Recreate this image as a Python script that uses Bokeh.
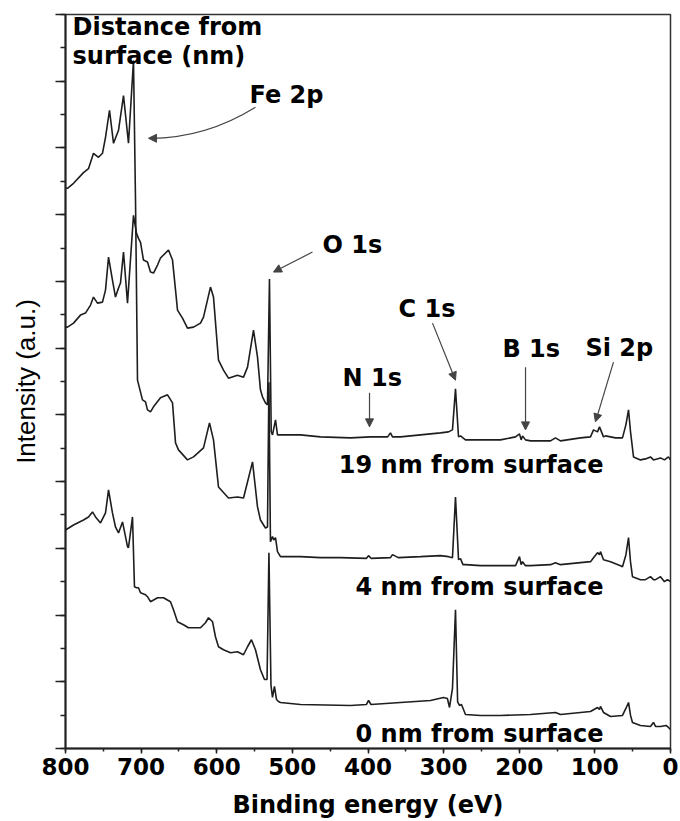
from bokeh.plotting import figure
from bokeh.models import Range1d, SingleIntervalTicker, Arrow, NormalHead
from bokeh.core.properties import value
from bokeh.embed import file_html
from bokeh.resources import INLINE

# ---------------- data (binding energy in eV, intensity in a.u.) ----------------
# 4 nm from surface
be_4nm = [800, 797.4, 789.4, 776.2, 769.6, 763.0, 756.4, 751.1, 747.1, 741.8,
          736.5, 729.9, 723.3, 716.7, 710.1, 707.4, 705.5, 704.8, 698.2, 694.2,
          691.6, 687.6, 683.6, 674.4, 665.1, 658.5, 654.5, 650.6, 638.7, 630.7,
          617.5, 609.6, 604.3, 597.7, 584.5, 572.6, 564.6, 552.7, 546.1, 542.2,
          535.6, 532.9, 531.0, 529.0, 526.3, 524.5, 522.3, 519.7, 515.7, 489.3,
          462.8, 436.4, 402.0, 399.3, 396.0, 370.3, 367.6, 360.0, 330.6, 304.1,
          293.6, 288.3, 284.3, 280.3, 277.7, 274.4, 271.1, 251.2, 224.8, 204.9,
          199.7, 197.5, 195.7, 191.7, 185.1, 158.7, 152.1, 145.5, 119.0, 105.8,
          101.8, 96.5, 93.9, 92.6, 88.6, 79.3, 66.1, 63.5, 59.0, 55.5,
          52.9, 50.3, 39.7, 33.1, 26.5, 22.5, 19.8, 13.2, 8.0, 4.0,
          0.0]
int_4nm = [16.79, 16.79, 16.94, 17.26, 17.38, 17.84, 17.72, 17.84, 18.32, 19.13,
           18.14, 18.53, 19.57, 18.14, 20.62, 16.40, 12.50, 11.04, 10.45, 10.39,
           10.15, 10.09, 10.24, 10.51, 10.60, 10.36, 9.16, 8.95, 8.65, 8.74,
           9.01, 9.76, 9.25, 7.84, 7.51, 7.54, 7.51, 8.59, 7.24, 6.85,
           6.61, 6.64, 10.98, 6.20, 6.35, 6.25, 6.32, 5.90, 5.75, 5.75,
           5.72, 5.72, 5.70, 5.78, 5.70, 5.72, 5.81, 5.72, 5.75, 5.78,
           5.75, 5.72, 7.54, 5.66, 5.69, 5.51, 5.51, 5.48, 5.48, 5.48,
           5.75, 5.51, 5.60, 5.48, 5.48, 5.51, 5.57, 5.51, 5.57, 5.60,
           5.72, 5.87, 5.81, 5.90, 5.66, 5.60, 5.48, 5.45, 5.80, 6.32,
           5.60, 5.15, 5.06, 5.06, 5.15, 5.06, 5.06, 5.15, 5.00, 5.06,
           5.00]

# 19 nm from surface
be_19nm = [800, 797.4, 789.4, 780.2, 773.6, 766.9, 763.0, 757.7, 751.1, 747.1,
           743.1, 737.9, 733.9, 729.9, 727.3, 723.3, 718.0, 710.1, 706.1, 703.5,
           700.8, 696.9, 691.6, 687.6, 683.6, 678.3, 674.4, 663.8, 658.5, 654.5,
           651.9, 645.3, 638.7, 630.7, 621.5, 617.5, 608.3, 604.3, 597.7, 591.1,
           584.5, 572.6, 564.6, 559.3, 551.4, 546.1, 542.2, 539.5, 535.6, 532.9,
           530.3, 528.0, 526.3, 522.3, 519.7, 515.7, 489.3, 462.8, 423.1, 396.7,
           374.0, 370.3, 367.6, 357.0, 330.6, 304.1, 293.6, 288.3, 284.3, 280.3,
           277.7, 271.1, 251.2, 224.8, 204.9, 199.7, 197.5, 195.7, 191.7, 185.1,
           158.7, 152.1, 145.5, 119.0, 105.8, 101.8, 96.5, 93.9, 88.6, 85.9,
           72.7, 63.5, 59.0, 55.5, 52.9, 48.9, 39.7, 33.1, 26.5, 22.5,
           13.2, 8.0, 2.7, 0.0]
int_19nm = [12.63, 12.63, 12.75, 12.99, 13.05, 13.29, 13.53, 13.35, 13.38, 13.74,
            14.73, 14.04, 13.53, 13.80, 13.95, 14.88, 13.35, 15.98, 15.44, 15.29,
            15.17, 14.64, 14.58, 14.28, 14.25, 14.49, 14.70, 14.94, 14.64, 13.74,
            13.14, 12.90, 12.60, 12.63, 12.75, 12.93, 13.83, 13.53, 11.64, 11.34,
            11.10, 11.19, 11.13, 11.43, 12.54, 11.73, 10.75, 10.54, 10.36, 10.30,
            14.07, 9.50, 9.40, 9.85, 9.40, 9.40, 9.40, 9.34, 9.31, 9.34,
            9.34, 9.46, 9.34, 9.34, 9.40, 9.46, 9.49, 9.55, 10.78, 9.34,
            9.37, 9.25, 9.25, 9.25, 9.34, 9.43, 9.25, 9.37, 9.25, 9.22,
            9.22, 9.31, 9.22, 9.31, 9.34, 9.55, 9.49, 9.64, 9.34, 9.37,
            9.31, 9.31, 9.70, 10.15, 9.50, 8.74, 8.65, 8.68, 8.74, 8.65,
            8.71, 8.65, 8.74, 8.65]

# 0 nm from surface
be_0nm = [800, 789.4, 776.2, 769.6, 764.3, 760.3, 753.7, 747.1, 743.1, 737.9,
          733.9, 729.9, 724.6, 718.0, 716.7, 711.4, 708.8, 706.1, 703.5, 700.8,
          694.2, 691.6, 687.6, 678.3, 670.4, 661.2, 657.2, 651.9, 644.0, 637.4,
          621.5, 614.9, 610.9, 605.6, 601.7, 597.7, 591.1, 581.8, 572.6, 564.6,
          559.3, 554.1, 548.8, 542.2, 536.9, 533.5, 531.0, 528.3, 526.3, 523.7,
          521.0, 518.4, 515.7, 489.3, 423.1, 402.0, 399.3, 396.0, 357.0, 317.4,
          300.2, 295.0, 292.2, 288.3, 284.3, 281.5, 279.0, 276.4, 271.1, 251.2,
          224.8, 185.1, 152.1, 145.5, 119.0, 105.8, 96.5, 93.9, 92.6, 88.6,
          79.3, 63.5, 59.0, 55.5, 52.9, 50.3, 39.7, 26.5, 22.5, 19.8,
          13.2, 6.0, 2.7, 0.0]
int_0nm = [6.55, 6.70, 6.85, 6.94, 7.09, 6.94, 6.76, 7.06, 7.75, 7.06,
           6.64, 6.46, 6.79, 6.05, 6.02, 6.94, 4.85, 4.82, 4.82, 4.67,
           4.61, 4.55, 4.40, 4.52, 4.52, 4.40, 4.16, 3.80, 3.71, 3.62,
           3.62, 3.77, 3.92, 3.80, 3.35, 3.05, 2.96, 2.87, 2.90, 2.81,
           3.05, 3.26, 2.96, 2.36, 2.07, 2.07, 5.87, 1.90, 1.53, 1.86,
           1.47, 1.41, 1.38, 1.32, 1.29, 1.32, 1.44, 1.32, 1.38, 1.44,
           1.53, 1.50, 1.23, 1.80, 4.16, 1.40, 1.29, 1.32, 1.02, 0.99,
           0.99, 1.02, 1.08, 1.02, 1.08, 1.11, 1.23, 1.17, 1.26, 1.08,
           0.96, 0.99, 1.20, 1.38, 1.00, 0.78, 0.69, 0.66, 0.78, 0.66,
           0.66, 0.69, 0.63, 0.57]

x_ticks = [800, 700, 600, 500, 400, 300, 200, 100, 0]

# ---------------- figure ----------------
p = figure(width=680, height=821, output_backend="svg", toolbar_location=None,
           x_range=Range1d(start=800, end=0), y_range=Range1d(start=0, end=22),
           min_border_left=65, min_border_right=10, min_border_top=14,
           min_border_bottom=72)
p.background_fill_color = "white"
p.border_fill_color = "white"
p.outline_line_color = "#333333"
p.outline_line_width = 1.5
p.xgrid.visible = False
p.ygrid.visible = False

LINE = "#1e1e1e"
for xs, ys in [(be_4nm, int_4nm), (be_19nm, int_19nm), (be_0nm, int_0nm)]:
    p.line(xs, ys, line_color=LINE, line_width=1.6)

# x axis
p.xaxis.ticker = SingleIntervalTicker(interval=100, num_minor_ticks=2)
p.xaxis.major_label_overrides = {t: str(t) for t in x_ticks}
p.xaxis.axis_label = "Binding energy (eV)"
p.xaxis.axis_label_text_font = "DejaVu Sans"
p.xaxis.axis_label_text_font_style = "bold"
p.xaxis.axis_label_text_font_size = "24px"
p.xaxis.axis_label_text_color = "black"
p.xaxis.axis_label_standoff = 13
p.xaxis.major_label_text_font = "DejaVu Sans"
p.xaxis.major_label_text_font_style = "bold"
p.xaxis.major_label_text_font_size = "23px"
p.xaxis.major_label_text_color = "black"
p.xaxis.major_label_standoff = 4
p.xaxis.major_tick_out = 5
p.xaxis.major_tick_in = 0
p.xaxis.minor_tick_out = 3
p.xaxis.minor_tick_in = 0

# y axis (no tick labels)
p.yaxis.ticker = SingleIntervalTicker(interval=2, num_minor_ticks=2)
p.yaxis.major_label_overrides = {i: "" for i in range(0, 23, 2)}
p.yaxis.axis_label = "Intensity (a.u.)"
p.yaxis.axis_label_text_font = "Liberation Sans"
p.yaxis.axis_label_text_font_style = "normal"
p.yaxis.axis_label_text_font_size = "26px"
p.yaxis.axis_label_text_color = "black"
p.yaxis.axis_label_standoff = 15
p.yaxis.major_tick_out = 10
p.yaxis.major_tick_in = 0
p.yaxis.minor_tick_out = 5
p.yaxis.minor_tick_in = 0

for ax in (p.xaxis, p.yaxis):
    ax.axis_line_width = 2
    ax.axis_line_color = "#222222"
    ax.major_tick_line_color = "#222222"
    ax.minor_tick_line_color = "#222222"
    ax.major_tick_line_width = 1.5
    ax.minor_tick_line_width = 1.5

# ---------------- annotations ----------------
FONT = value("DejaVu Sans")
def label(x, y, s, size="24px", align="left"):
    p.text(x=[x], y=[y], text=[s], text_font=FONT, text_font_style="bold",
           text_font_size=size, text_color="black", text_align=align,
           text_baseline="alphabetic")

label(790.7, 21.64, "Distance from")
label(790.7, 20.77, "surface (nm)")
label(556.7, 19.58, "Fe 2p")
label(460.2, 15.09, "O 1s")
label(359.7, 13.17, "C 1s")
label(222.2, 11.97, "B 1s")
label(112.4, 12.00, "Si 2p")
label(433.7, 11.10, "N 1s")
label(88.6, 8.50, "19 nm from surface", align="right")
label(88.6, 4.85, "4 nm from surface", align="right")
label(88.6, 0.42, "0 nm from surface", align="right")

ARROW = "#444444"
# curved Fe 2p arrow
p.quadratic(x0=[548.8], y0=[19.22], x1=[688.0], y1=[18.29], cx=[614.9], cy=[18.29],
            line_color=ARROW, line_width=1.2)

def arrow(xs, ys, xe, ye):
    p.add_layout(Arrow(end=NormalHead(size=8, fill_color=ARROW, line_color=ARROW),
                       x_start=xs, y_start=ys, x_end=xe, y_end=ye,
                       line_color=ARROW, line_width=1.2))

arrow(684.0, 18.29, 690.2, 18.29)      # Fe 2p head
arrow(473.4, 14.88, 525.0, 14.28)      # O 1s
arrow(314.7, 12.75, 284.3, 11.04)      # C 1s
arrow(191.7, 11.43, 191.7, 9.55)       # B 1s
arrow(75.4, 11.58, 99.2, 9.79)         # Si 2p
arrow(398.0, 10.66, 398.0, 9.64)       # N 1s

open("out.html", "w").write(file_html(p, INLINE))
